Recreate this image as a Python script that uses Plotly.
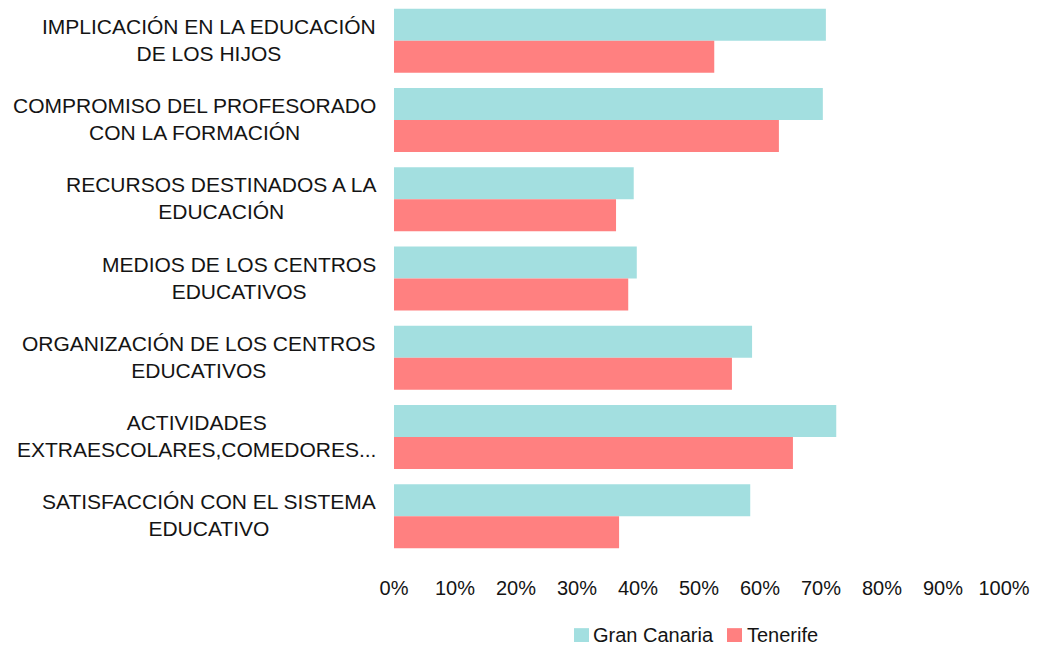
import plotly.graph_objects as go

categories = [
    "IMPLICACIÓN EN LA EDUCACIÓN<br>DE LOS HIJOS",
    "COMPROMISO DEL PROFESORADO<br>CON LA FORMACIÓN",
    "RECURSOS DESTINADOS A LA<br>EDUCACIÓN",
    "MEDIOS DE LOS CENTROS<br>EDUCATIVOS",
    "ORGANIZACIÓN DE LOS CENTROS<br>EDUCATIVOS",
    "ACTIVIDADES<br>EXTRAESCOLARES,COMEDORES...",
    "SATISFACCIÓN CON EL SISTEMA<br>EDUCATIVO",
]
gran_canaria = [0.708, 0.703, 0.393, 0.398, 0.587, 0.725, 0.584]
tenerife = [0.525, 0.631, 0.364, 0.384, 0.554, 0.654, 0.369]
x_ticks = [0, 0.1, 0.2, 0.3, 0.4, 0.5, 0.6, 0.7, 0.8, 0.9, 1.0]
series_names = ["Gran Canaria", "Tenerife"]
series_colors = ["#A3DFE0", "#FF8080"]

FONT = "Liberation Sans, Arial, sans-serif"
TEXT = "#141414"

fig = go.Figure()
for name, values, color in zip(series_names, [gran_canaria, tenerife], series_colors):
    fig.add_trace(go.Bar(
        y=list(range(len(categories))), x=values, orientation="h",
        name=name, marker=dict(color=color, line=dict(width=0)),
    ))

# category labels: centred multi-line text, right edge just left of the axis
for i, label in enumerate(categories):
    fig.add_annotation(
        xref="paper", yref="y", x=-0.026, y=i, yshift=1,
        text=label,
        showarrow=False, xanchor="right", yanchor="middle", align="center",
        font=dict(family=FONT, size=21, color=TEXT),
    )

# legend row below the axis: square swatch followed by the series name
legend_swatch_x = [0.2951, 0.5459]
legend_text_x = [0.3230, 0.5760]
swatch_w, swatch_y0, swatch_y1, legend_y = 0.0246, -0.1550, -0.1300, -0.1424
for name, color, sx, tx in zip(series_names, series_colors, legend_swatch_x, legend_text_x):
    fig.add_shape(
        type="rect", xref="paper", yref="paper",
        x0=sx, x1=sx + swatch_w, y0=swatch_y0, y1=swatch_y1,
        fillcolor=color, line=dict(width=0),
    )
    fig.add_annotation(
        xref="paper", yref="paper", x=tx, y=legend_y,
        text=name, showarrow=False, xanchor="left", yanchor="middle",
        font=dict(family=FONT, size=20, color=TEXT),
    )

fig.update_layout(
    width=1045, height=648,
    margin=dict(l=394, r=41, t=1, b=92),
    paper_bgcolor="white", plot_bgcolor="white",
    barmode="group", bargap=0.193, bargroupgap=0,
    font=dict(family=FONT, size=20, color=TEXT),
    showlegend=False,
    xaxis=dict(
        range=[0, 1.0], tickvals=x_ticks, tickformat=".0%",
        showgrid=False, zeroline=False, showline=False, ticks="",
        ticklabelstandoff=18, tickfont=dict(family=FONT, size=20, color=TEXT),
        fixedrange=True,
    ),
    yaxis=dict(
        range=[6.5, -0.5], showticklabels=False, showgrid=False,
        zeroline=False, showline=False, ticks="",
    ),
)

fig.write_html("out.html")
